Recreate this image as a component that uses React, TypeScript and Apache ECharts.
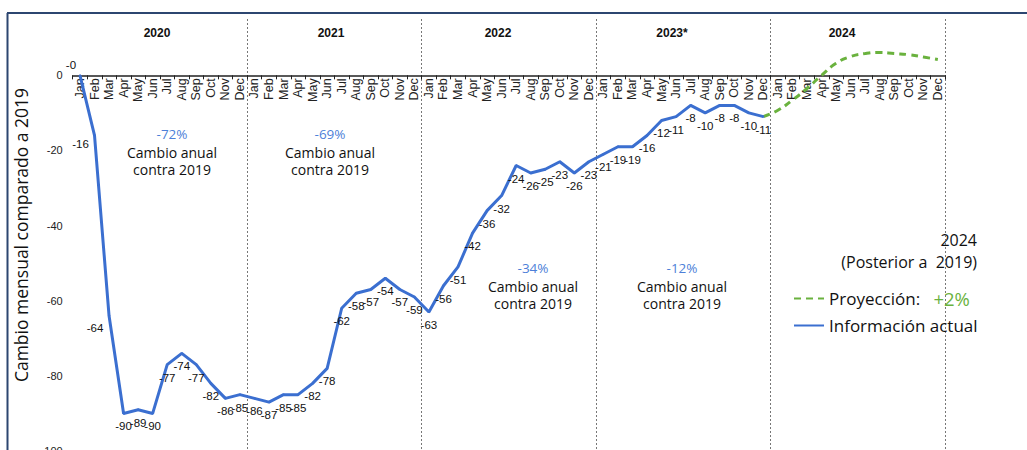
import React, { useEffect, useRef } from "react";
import * as echarts from "echarts";

// ---------- data ----------
const monthNames = ["Jan", "Feb", "Mar", "Apr", "May", "Jun", "Jul", "Aug", "Sep", "Oct", "Nov", "Dec"];
const years = ["2020", "2021", "2022", "2023", "2024"];
const yearHeaders = ["2020", "2021", "2022", "2023*", "2024"];

const actual2020 = [0, -16, -64, -90, -89, -90, -77, -74, -77, -82, -86, -85];
const actual2021 = [-86, -87, -85, -85, -82, -78, -62, -58, -57, -54, -57, -59];
const actual2022 = [-63, -56, -51, -42, -36, -32, -24, -26, -25, -23, -26, -23];
const actual2023 = [-21, -19, -19, -16, -12, -11, -8, -10, -8, -8, -10, -11];
const projection2024 = [-9.3, -6.6, -3.5, 0, 3.2, 5, 5.8, 6.1, 5.8, 5.5, 4.9, 4.2];

const annualChange = ["-72%", "-69%", "-34%", "-12%"];
const projectionChange = "+2%";

const yTicks = { min: -100, max: 15, interval: 20 };

// ---------- styles ----------
const BLUE = "#3b6fd0";
const GREEN = "#6ab23e";
const PCT = "#4d7fd8";
const SANS = "'Open Sans', Lato, sans-serif";
const ARIAL = "'Liberation Sans', Arial, sans-serif";

// label offsets for the first points (placed to the left in the original)
const labelOffsets: Record<number, [number, number]> = {
  0: [-9, -23],
  1: [-14, -4],
  2: [-14, -1],
};

export default function App() {
  const ref = useRef<HTMLDivElement>(null);

  useEffect(() => {
    document.body.style.margin = "0";
    if (!ref.current) return;
    const chart = echarts.init(ref.current, undefined, { renderer: "svg" });

    const categories = years.flatMap((y) => monthNames.map((m) => `${y}-${m}`));
    const actual = [...actual2020, ...actual2021, ...actual2022, ...actual2023];
    const actualData: any[] = actual.map((v, i) =>
      labelOffsets[i] ? { value: v, label: { offset: labelOffsets[i] } } : v
    );
    for (let i = actualData.length; i < categories.length; i++) actualData.push(null);

    const projData: any[] = categories.map(() => null);
    projData[actual.length - 1] = actual[actual.length - 1];
    projection2024.forEach((v, i) => (projData[actual.length + i] = v));

    const gridTop = 19;
    const gridHeight = 432;
    // distance of the value-0 line above the grid bottom
    const zeroOffset = (gridHeight * (0 - yTicks.min)) / (yTicks.max - yTicks.min);

    const yearX = [157, 331, 498, 672, 842];
    const annX = [172, 330, 533, 682];
    const annY = [134, 134, 268, 268];

    const graphic: any[] = [
      { type: "line", shape: { x1: 7, y1: 13, x2: 1027, y2: 13 }, style: { stroke: "#2c4670", lineWidth: 2 } },
      { type: "line", shape: { x1: 7.5, y1: 13, x2: 7.5, y2: 450 }, style: { stroke: "#2c4670", lineWidth: 2 } },
    ];
    yearHeaders.forEach((t, i) =>
      graphic.push({
        type: "text",
        x: yearX[i],
        y: 33,
        style: { text: t, fontFamily: ARIAL, fontWeight: "bold", fontSize: 12, fill: "#111", align: "center", verticalAlign: "middle" },
      })
    );
    annualChange.forEach((t, i) => {
      graphic.push({
        type: "text",
        x: annX[i],
        y: annY[i],
        style: { text: t, fontFamily: SANS, fontSize: 13.5, fill: PCT, align: "center", verticalAlign: "middle" },
      });
      graphic.push({
        type: "text",
        x: annX[i],
        y: annY[i] + 18,
        style: { text: "Cambio anual", fontFamily: SANS, fontSize: 14, fill: "#111", align: "center", verticalAlign: "middle" },
      });
      graphic.push({
        type: "text",
        x: annX[i],
        y: annY[i] + 35,
        style: { text: "contra 2019", fontFamily: SANS, fontSize: 14, fill: "#111", align: "center", verticalAlign: "middle" },
      });
    });
    graphic.push({
      type: "text",
      x: 977,
      y: 240,
      style: { text: "2024", fontFamily: SANS, fontSize: 16, fill: "#111", align: "right", verticalAlign: "middle" },
    });
    graphic.push({
      type: "text",
      x: 977,
      y: 262,
      style: { text: "(Posterior a  2019)", fontFamily: SANS, fontSize: 16, fill: "#111", align: "right", verticalAlign: "middle" },
    });

    chart.setOption({
      animation: false,
      grid: { left: 72.7, top: gridTop, width: 872.4, height: gridHeight, outerBoundsMode: "none", containLabel: false },
      legend: {
        data: ["Proyección", "Información actual"],
        orient: "vertical",
        left: 788,
        top: 284,
        itemWidth: 30,
        itemHeight: 12,
        itemGap: 9,
        itemStyle: { color: "transparent", borderWidth: 0 },
        textStyle: {
          fontFamily: SANS,
          fontSize: 17,
          color: "#111",
          rich: {
            n: { fontFamily: SANS, fontSize: 17, color: "#111" },
            g: { fontFamily: SANS, fontSize: 18.5, color: GREEN },
          },
        },
        formatter: (name: string) =>
          name === "Proyección" ? `{n|Proyección:}   {g|${projectionChange}}` : `{n|${name}}`,
      },
      xAxis: {
        type: "category",
        data: categories,
        boundaryGap: true,
        position: "bottom",
        offset: -zeroOffset,
        axisLine: { show: true, onZero: false, lineStyle: { color: "#222", width: 1.5 } },
        axisTick: { show: true, interval: 0, length: 4, lineStyle: { color: "#222" } },
        axisLabel: {
          interval: 0,
          rotate: 90,
          margin: 3,
          fontFamily: ARIAL,
          fontSize: 12.5,
          color: "#222",
          formatter: (v: string) => v.split("-")[1],
        },
        splitLine: {
          show: true,
          interval: (i: number) => i > 0 && i % 12 === 0,
          lineStyle: { color: "#777", width: 1, type: [2, 2] },
        },
      },
      yAxis: {
        type: "value",
        min: yTicks.min,
        max: yTicks.max,
        interval: yTicks.interval,
        axisLine: { show: false },
        axisTick: { show: false },
        splitLine: { show: false },
        axisLabel: {
          margin: 10,
          fontFamily: ARIAL,
          fontSize: 11,
          color: "#222",
          formatter: (v: number) => (v > 0 ? "" : String(v)),
        },
        name: "Cambio mensual comparado a 2019",
        nameLocation: "middle",
        nameGap: 40,
        nameTextStyle: { fontFamily: SANS, fontSize: 17.5, color: "#111" },
      },
      graphic,
      series: [
        {
          name: "Información actual",
          type: "line",
          data: actualData,
          symbol: "circle",
          symbolSize: 2,
          showSymbol: true,
          lineStyle: { color: BLUE, width: 3 },
          itemStyle: { color: BLUE },
          z: 3,
          label: {
            show: true,
            position: "bottom",
            distance: 6,
            fontFamily: ARIAL,
            fontSize: 11.5,
            color: "#111",
            formatter: (p: any) => (p.value === 0 ? "-0" : String(p.value)),
          },
        },
        {
          name: "Proyección",
          type: "line",
          data: projData,
          smooth: true,
          symbol: "none",
          lineStyle: { color: GREEN, width: 3, type: [7, 5] },
          itemStyle: { color: GREEN },
          z: 2,
        },
      ],
    });

    return () => chart.dispose();
  }, []);

  return <div ref={ref} style={{ position: "absolute", left: 0, top: 0, width: 1027, height: 450 }} />;
}
